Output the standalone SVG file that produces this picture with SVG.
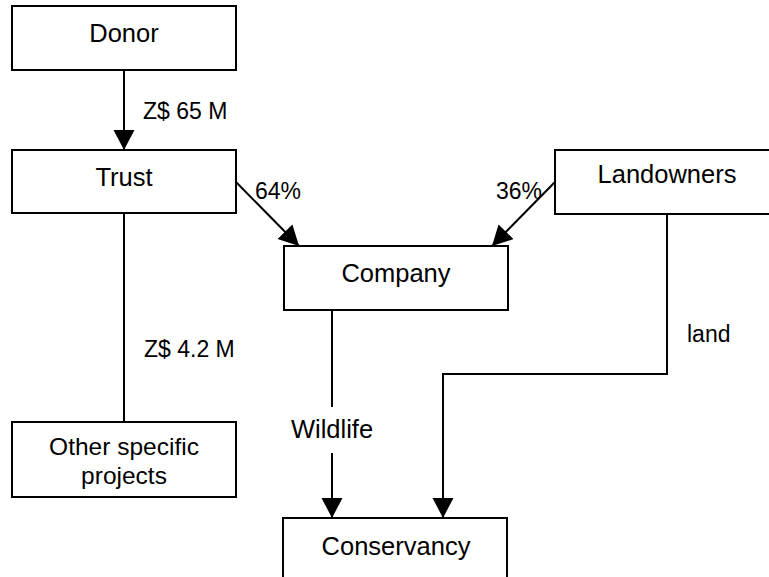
<svg xmlns="http://www.w3.org/2000/svg" width="769" height="577" viewBox="0 0 769 577">
<style>
.box{fill:#fff;stroke:#000;stroke-width:2}
.t{font-family:"Liberation Sans",Arial,sans-serif;font-size:25.5px;fill:#000;text-anchor:middle}
.l{font-family:"Liberation Sans",Arial,sans-serif;font-size:23px;fill:#000}
.c{fill:none;stroke:#000;stroke-width:2}
</style>
<defs>
<marker id="ah" markerUnits="userSpaceOnUse" markerWidth="21" markerHeight="22" refX="20" refY="10.5" orient="auto">
<path d="M0,0 L20,10.5 L0,21 Z" fill="#000"/>
</marker>
</defs>
<rect width="769" height="577" fill="#fff"/>
<g id="connectors">
<line class="c" x1="124" y1="70" x2="124" y2="150" marker-end="url(#ah)"/>
<line class="c" x1="236" y1="182" x2="299" y2="246" marker-end="url(#ah)"/>
<line class="c" x1="555" y1="182" x2="492" y2="246" marker-end="url(#ah)"/>
<line class="c" x1="124" y1="213" x2="124" y2="422"/>
<line class="c" x1="332" y1="310" x2="332" y2="407"/>
<line class="c" x1="332" y1="453" x2="332" y2="518" marker-end="url(#ah)"/>
<polyline class="c" points="667,214 667,374 443,374 443,518" marker-end="url(#ah)"/>
<text class="l" x="143" y="119">Z$ 65 M</text>
<text class="l" x="255" y="199">64%</text>
<text class="l" x="496" y="199">36%</text>
<text class="l" x="144" y="357">Z$ 4.2 M</text>
<text class="l" x="687" y="342">land</text>
<text class="t" x="332" y="438">Wildlife</text>
</g>
<g id="donor"><rect class="box" x="12" y="6" width="224" height="64"/><text class="t" x="124" y="42">Donor</text></g>
<g id="trust"><rect class="box" x="12" y="150" width="224" height="63"/><text class="t" x="124" y="186">Trust</text></g>
<g id="landowners"><rect class="box" x="555" y="150" width="224" height="64"/><text class="t" x="667" y="183">Landowners</text></g>
<g id="company"><rect class="box" x="284" y="246" width="224" height="64"/><text class="t" x="396" y="282">Company</text></g>
<g id="other"><rect class="box" x="12" y="422" width="224" height="75"/><text class="t" x="124" y="455" style="font-size:24.5px">Other specific</text><text class="t" x="124" y="483.5" style="font-size:24.5px">projects</text></g>
<g id="conservancy"><rect class="box" x="283" y="518" width="224" height="70"/><text class="t" x="396" y="555">Conservancy</text></g>
</svg>
